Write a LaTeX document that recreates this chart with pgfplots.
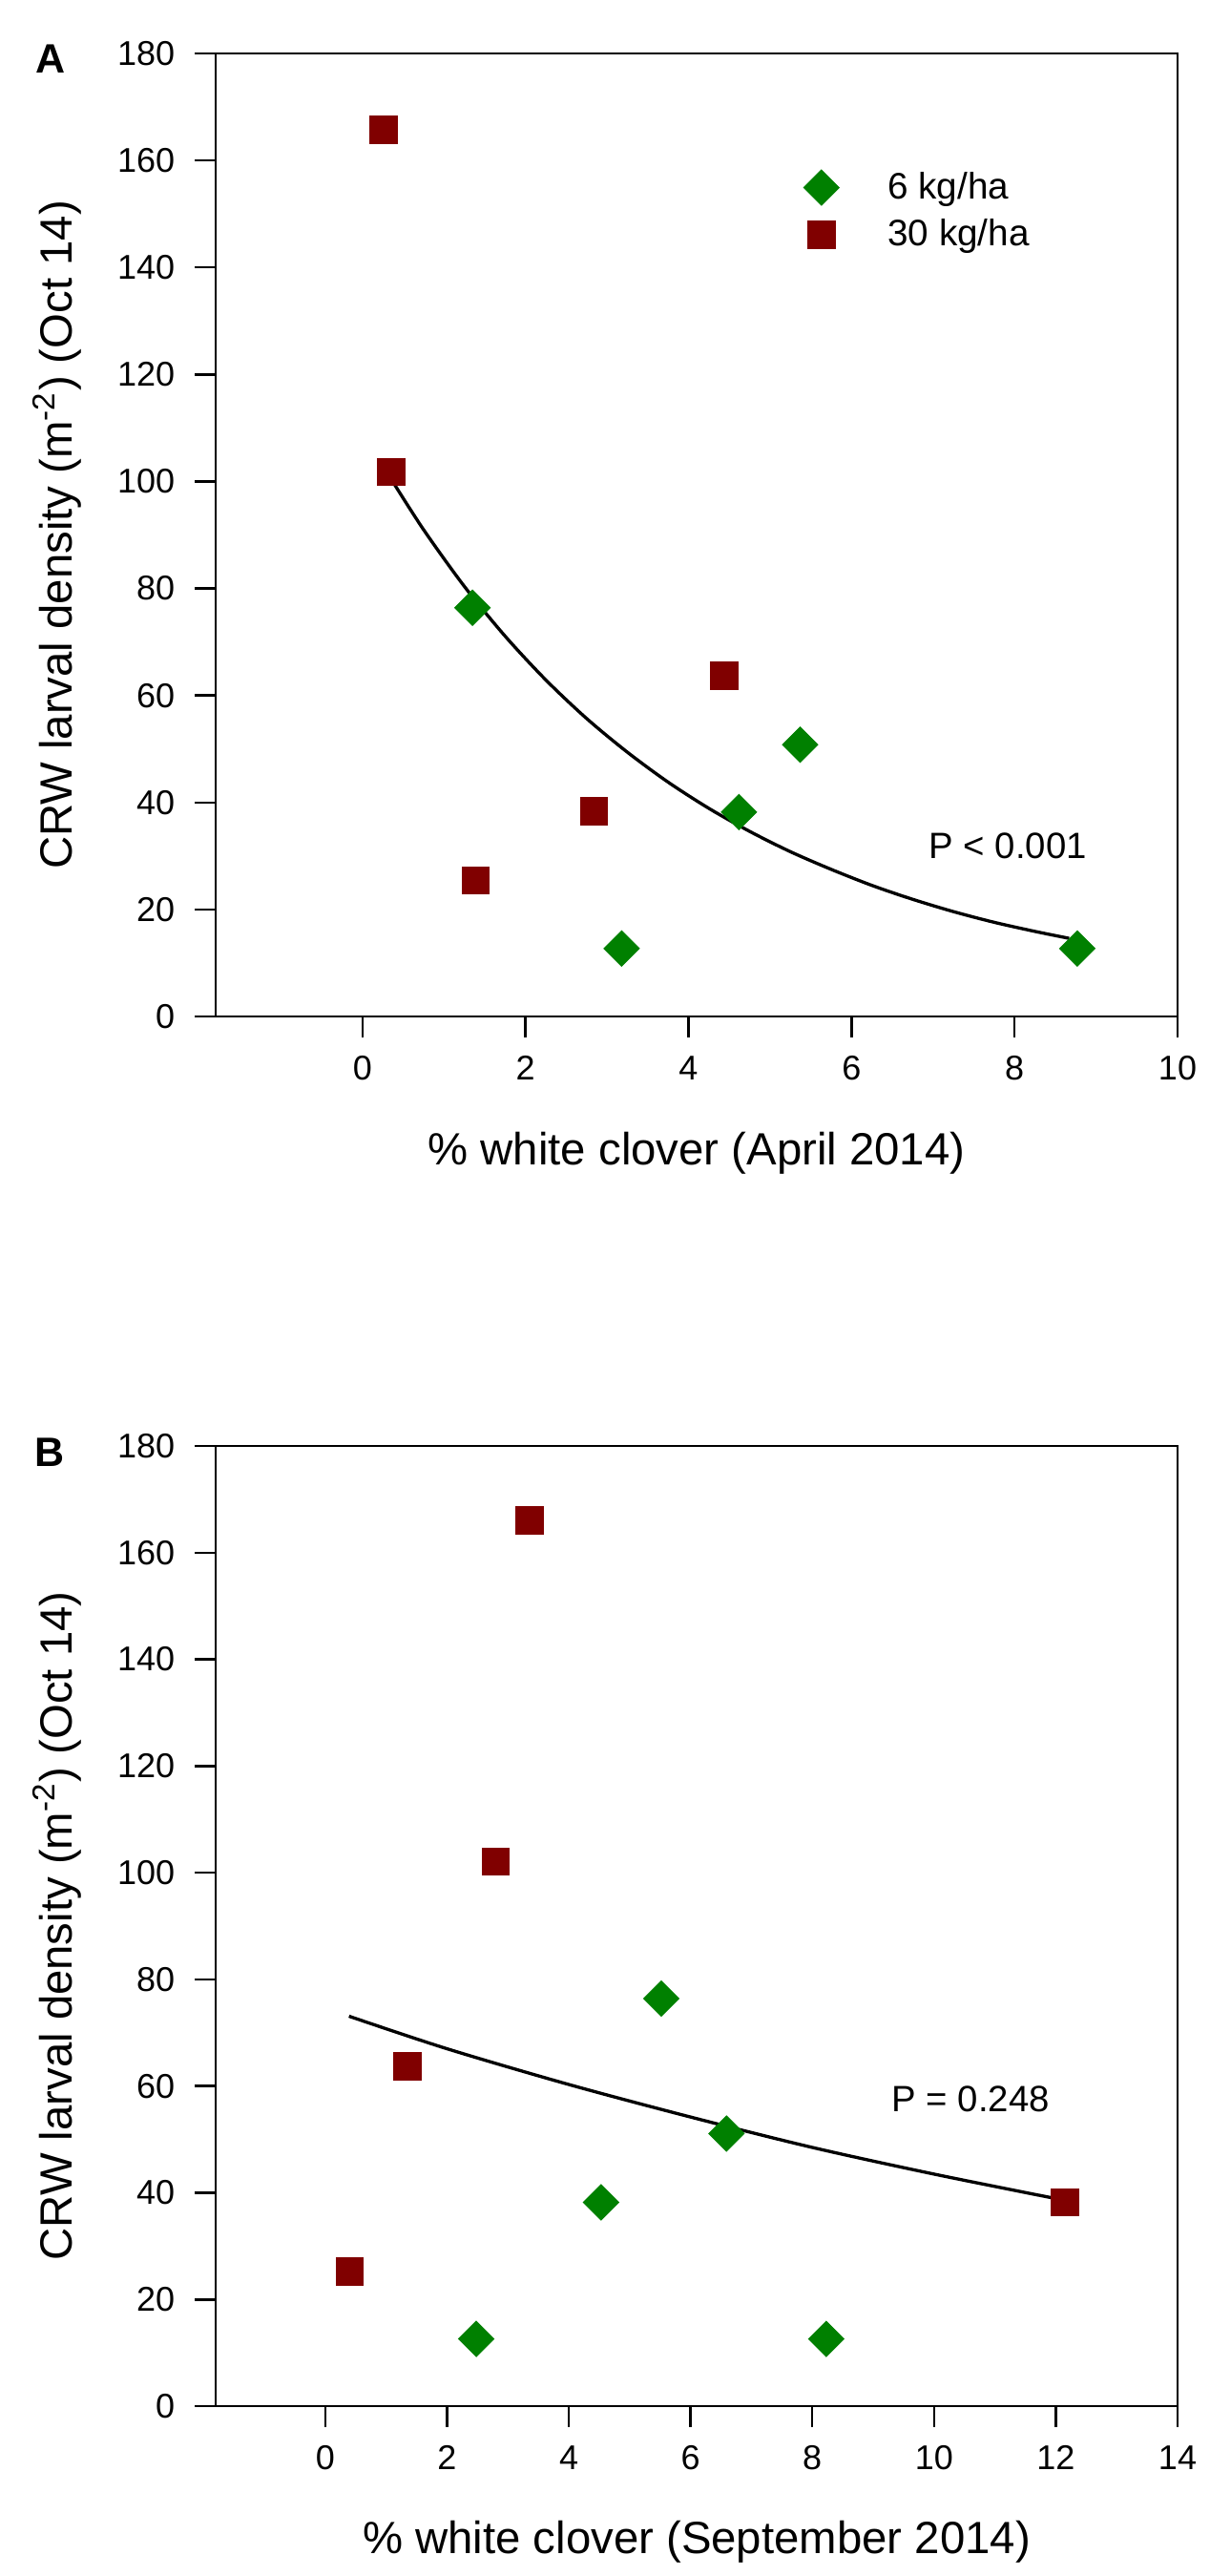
\documentclass[border=0pt]{standalone}
\usepackage{fontspec}
\setmainfont{Liberation Sans}
\usepackage{pgfplots}
\pgfplotsset{compat=1.18}
\definecolor{cgreen}{RGB}{0,128,0}
\definecolor{cred}{RGB}{128,0,0}
\pgfplotsset{
  panel/.style={
    scale only axis,
    width=302.4pt,
    axis line style={line width=0.75pt},
    tick style={line width=0.75pt, black},
    tick align=outside,
    xtick pos=bottom, ytick pos=left,
    major tick length=6.5pt,
    ymin=0, ymax=180, ytick={0,20,...,180},
    tick label style={font=\fontsize{10.8}{13}\selectfont},
    /pgf/number format/assume math mode=true,
    yticklabel style={xshift=-2.8pt},
    xticklabel style={yshift=-2.4pt},
    label style={font=\fontsize{14.2}{17}\selectfont},
    ylabel={CRW larval density (m\textsuperscript{-2}) (Oct 14)},
    ylabel style={at={(axis description cs:-0.1498,0.5)}, anchor=base, rotate=0},
    xlabel style={at={(axis description cs:0.5,-0.1540)}, anchor=base},
    clip=false,
  },
  greenpt/.style={only marks, mark=square*, mark size=3.87pt, mark options={rotate=45, fill=cgreen, draw=cgreen}},
  redpt/.style={only marks, mark=square*, mark size=4.25pt, mark options={fill=cred, draw=cred}},
  fitline/.style={black, line width=1pt, smooth, no marks, forget plot},
}
\begin{document}
\begin{tikzpicture}
\useasboundingbox (0,0) rectangle (380.1pt,-809.7pt);
% Panel A
\begin{axis}[panel, at={(67.8pt,-319.5pt)}, anchor=south west, height=302.7pt,
  xmin=-1.8, xmax=10, xtick={0,2,...,10},
  xlabel={\% white clover (April 2014)},
  legend style={draw=none, fill=none, inner sep=0pt, at={(axis cs:5.41,150.5)}, anchor=west,
    font=\fontsize{11.6}{14}\selectfont, row sep=1pt, column sep=13.4pt},
  legend cell align=left]
\addplot[greenpt] coordinates {(1.35,76.4) (5.37,50.8) (4.62,38.2) (3.18,12.7) (8.77,12.7)};
\addlegendentry{6 kg/ha}
\addplot[redpt] coordinates {(0.26,165.7) (0.35,101.8) (4.44,63.7) (2.84,38.4) (1.39,25.4)};
\addlegendentry{30 kg/ha}
\addplot[fitline] coordinates {(0.35,100.5) (0.75,91.0) (1.25,80.4) (1.75,71.1) (2.25,62.9) (2.75,55.7) (3.25,49.4) (3.75,43.8) (4.25,38.9) (4.75,34.6) (5.25,30.8) (5.75,27.5) (6.25,24.5) (6.75,21.9) (7.25,19.6) (7.75,17.6) (8.25,15.9) (8.67,14.6)};
\node[font=\fontsize{11.5}{14}\selectfont] at (axis cs:7.92,31.8) {P < 0.001};
\end{axis}
% Panel B
\begin{axis}[panel, at={(67.8pt,-756.3pt)}, anchor=south west, height=301.8pt,
  xmin=-1.8, xmax=14, xtick={0,2,...,14},
  xlabel={\% white clover (September 2014)}]
\addplot[greenpt] coordinates {(5.52,76.4) (6.59,51.1) (4.53,38.2) (2.48,12.6) (8.23,12.6)};
\addplot[redpt] coordinates {(3.36,166.0) (2.80,102.1) (1.35,63.7) (0.40,25.2) (12.15,38.2)};
\addplot[fitline] coordinates {(0.39,73.1) (2.0,67.0) (4.0,60.3) (6.0,54.2) (8.0,48.5) (10.0,43.5) (12.05,38.8)};
\node[font=\fontsize{11.5}{14}\selectfont] at (axis cs:10.6,57.5) {P = 0.248};
\end{axis}
\node[font=\bfseries\fontsize{12.9}{15}\selectfont] at (15.9pt,-18.6pt) {A};
\node[font=\bfseries\fontsize{12.9}{15}\selectfont] at (15.6pt,-456.6pt) {B};
\end{tikzpicture}
\end{document}
